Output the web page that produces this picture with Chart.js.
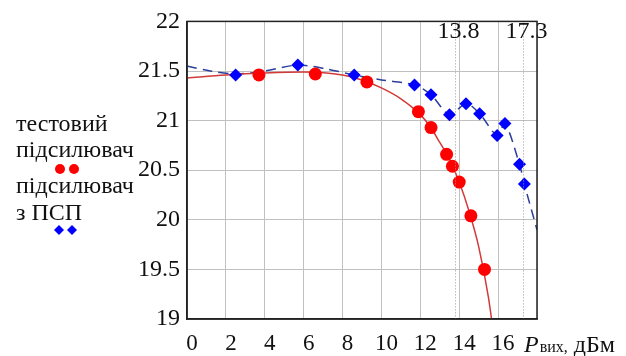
<!DOCTYPE html>
<html>
<head>
<meta charset="utf-8">
<script src="https://cdn.jsdelivr.net/npm/chart.js@4.4.1/dist/chart.umd.min.js"></script>
<style>
  body { margin: 0; background: #fff; }
  #wrap { width: 626px; height: 356px; }
</style>
</head>
<body>
<div id="wrap"><canvas id="chart" width="626" height="356"></canvas></div>
<script>
// measured points
const redX = [3.7, 6.6, 9.25, 11.9, 12.55, 13.35, 13.65, 14.0, 14.6, 15.3];
const redY = [21.46, 21.47, 21.39, 21.09, 20.93, 20.66, 20.54, 20.38, 20.04, 19.5];
const blueX = [2.5, 5.7, 8.6, 11.7, 12.55, 13.5, 14.35, 15.05, 15.95, 16.35, 17.1, 17.35];
const blueY = [21.46, 21.56, 21.46, 21.36, 21.26, 21.06, 21.17, 21.07, 20.85, 20.97, 20.56, 20.36];

// curves
const redFitX = [0, 2, 4, 6, 8, 9, 10, 11, 12, 12.5, 13, 13.5, 14, 14.5, 15, 15.5, 16];
const redFitY = [21.43, 21.46, 21.48, 21.49, 21.46, 21.41, 21.33, 21.22, 21.06, 20.94, 20.78, 20.61, 20.38, 20.09, 19.73, 19.22, 18.5];
const blueLineX = [0, 1.2, 2.5, 4, 5.7, 7.2, 8.6, 10, 11.7, 12.55, 13.5, 14.35, 15.05, 15.95, 16.35, 17.1, 17.35, 18];
const blueLineY = [21.55, 21.5, 21.47, 21.5, 21.56, 21.52, 21.46, 21.41, 21.36, 21.26, 21.06, 21.17, 21.07, 20.85, 20.97, 20.56, 20.36, 19.9];

const markerX = [13.8, 17.3];
const xTicks = [0, 2, 4, 6, 8, 10, 12, 14, 16, 18];
const yTicks = [19, 19.5, 20, 20.5, 21, 21.5, 22];

const pts = (xs, ys) => xs.map((x, i) => ({ x, y: ys[i] }));
const SERIF = '"Liberation Serif", "Times New Roman", serif';

const extras = {
  id: 'extras',
  afterDraw(chart) {
    const { ctx, chartArea: a, scales } = chart;
    ctx.save();
    // dotted reference lines + labels
    ctx.strokeStyle = '#999';
    ctx.lineWidth = 1;
    ctx.setLineDash([1, 2]);
    ctx.font = '24px ' + SERIF;
    ctx.fillStyle = '#111';
    ctx.textAlign = 'center';
    markerX.forEach(v => {
      const px = Math.round(scales.x.getPixelForValue(v)) + 0.5;
      ctx.beginPath();
      ctx.moveTo(px, a.top);
      ctx.lineTo(px, a.bottom);
      ctx.stroke();
      ctx.fillText(v.toFixed(1), px + 3, 38);
    });
    ctx.setLineDash([]);

    // frame
    ctx.strokeStyle = '#222';
    ctx.lineWidth = 1.5;
    ctx.strokeRect(a.left, a.top, a.right - a.left, a.bottom - a.top);

    // axis title
    ctx.textAlign = 'left';
    let x = scales.x.getPixelForValue(18) - 13;
    const base = 352;
    ctx.font = 'italic 24px ' + SERIF;
    ctx.fillText('P', x, base);
    x += ctx.measureText('P').width + 1;
    ctx.font = '16px ' + SERIF;
    ctx.fillText('вих,', x, base);
    x += ctx.measureText('вих,').width + 6;
    ctx.font = '24px ' + SERIF;
    ctx.fillText('дБм', x, base);

    // legend
    ctx.font = '24px ' + SERIF;
    ctx.fillText('тестовий', 16, 131);
    ctx.fillText('підсилювач', 16, 157);
    ctx.fillText('підсилювач', 16, 193);
    ctx.fillText('з ПСП', 16, 220);
    ctx.fillStyle = '#ff0000';
    [60, 74].forEach(cx => {
      ctx.beginPath();
      ctx.arc(cx, 169, 5, 0, Math.PI * 2);
      ctx.fill();
    });
    ctx.fillStyle = '#0000ff';
    [59, 72].forEach(cx => {
      ctx.beginPath();
      ctx.moveTo(cx, 225); ctx.lineTo(cx + 5, 230);
      ctx.lineTo(cx, 235); ctx.lineTo(cx - 5, 230);
      ctx.closePath();
      ctx.fill();
    });
    ctx.restore();
  }
};

new Chart(document.getElementById('chart'), {
  type: 'scatter',
  data: {
    datasets: [
      {
        data: pts(redX, redY),
        pointStyle: 'circle', pointRadius: 6.5, pointHoverRadius: 6.5,
        backgroundColor: '#ff0000', borderWidth: 0, order: 1
      },
      {
        data: pts(blueX, blueY),
        pointStyle: 'rectRot', pointRadius: 6.5, pointHoverRadius: 6.5,
        backgroundColor: '#0000ff', borderWidth: 0, order: 1
      },
      {
        data: pts(redFitX, redFitY), showLine: true, pointRadius: 0,
        borderColor: '#d23a3a', borderWidth: 1.5, tension: 0.4,
        cubicInterpolationMode: 'monotone', order: 2
      },
      {
        data: pts(blueLineX, blueLineY), showLine: true, pointRadius: 0,
        borderColor: '#2b3f9e', borderWidth: 1.5, borderDash: [10, 6],
        tension: 0.3, order: 2
      }
    ]
  },
  options: {
    responsive: false,
    animation: false,
    layout: { padding: { left: 0, right: 89, top: 14, bottom: 0 } },
    plugins: { legend: { display: false }, tooltip: { enabled: false } },
    scales: {
      x: {
        min: 0, max: 18,
        afterBuildTicks: s => { s.ticks = xTicks.map(v => ({ value: v })); },
        afterFit: s => { s.height = 37; },
        grid: { color: '#c0c0c0', drawTicks: false },
        border: { color: '#222', width: 1.5 },
        ticks: {
          color: '#111', padding: 11, labelOffset: 5,
          font: { family: SERIF, size: 23 },
          callback: v => v === 18 ? '' : String(v)
        }
      },
      y: {
        min: 19, max: 22,
        afterBuildTicks: s => { s.ticks = yTicks.map(v => ({ value: v })); },
        afterFit: s => { s.width = 187; },
        grid: { color: '#c0c0c0', drawTicks: false },
        border: { color: '#222', width: 1.5 },
        ticks: {
          color: '#111', padding: 7,
          font: { family: SERIF, size: 24 },
          callback: v => String(v)
        }
      }
    }
  },
  plugins: [extras]
});
</script>
</body>
</html>
